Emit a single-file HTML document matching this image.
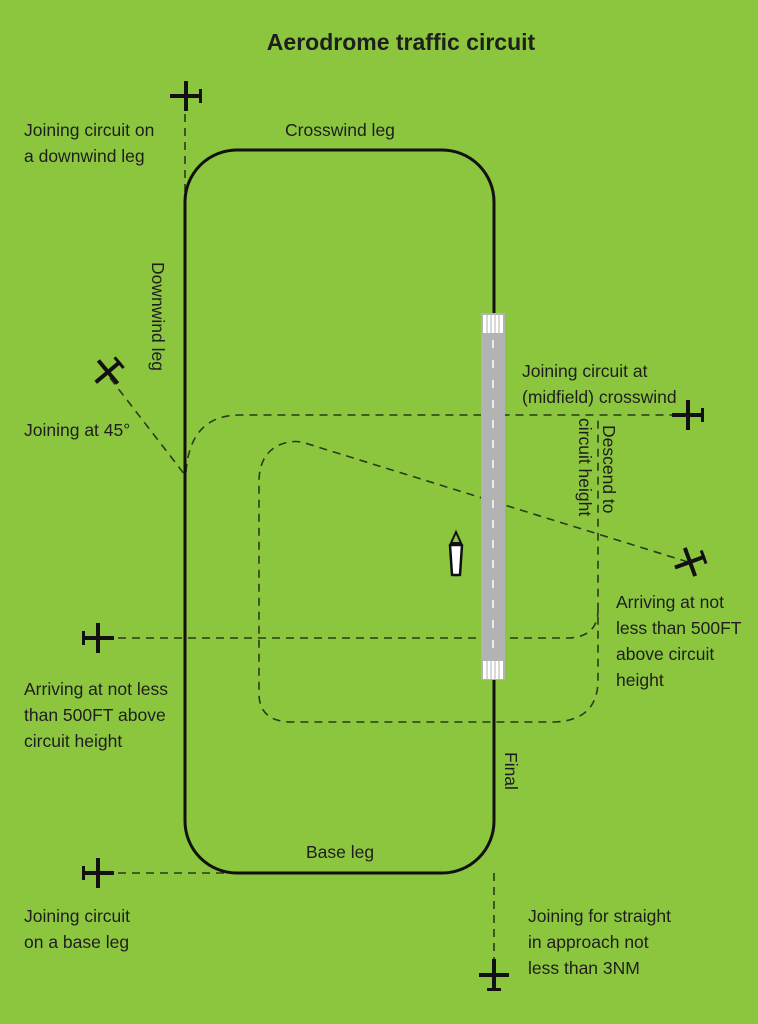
<!DOCTYPE html>
<html><head><meta charset="utf-8"><style>
html,body{margin:0;padding:0;background:#8cc63f;}
svg{display:block}
text{font-family:"Liberation Sans",sans-serif;fill:#1e1e1e;font-size:17.5px}
</style></head><body>
<svg width="758" height="1024" viewBox="0 0 758 1024" xmlns="http://www.w3.org/2000/svg">
<defs>
<g id="pl">
<rect x="-2" y="-15" width="4" height="30" fill="#111"/>
<rect x="-16" y="-2" width="32" height="4" fill="#111"/>
<rect x="13" y="-7" width="3" height="14" fill="#111"/>
</g>
</defs>
<rect width="758" height="1024" fill="#8cc63f"/>
<text x="401" y="50" text-anchor="middle" style="font-weight:bold;font-size:23px">Aerodrome traffic circuit</text>

<g fill="none" stroke="#2a3a1a" stroke-width="1.6" stroke-dasharray="8,6">
<line x1="185" y1="100" x2="185" y2="195"/>
<line x1="110" y1="378" x2="185" y2="475"/>
<path d="M186,472 Q190,415 240,415 L680,415"/>
<path d="M688,562 L305,443 Q296,440 285,443 Q260,450 259,480 L259,695 Q260,722 292,722 L555,722 Q598,720 598,680 L598,415"/>
<path d="M104,638 L570,638 Q598,636 598,610"/>
<line x1="104" y1="873" x2="232" y2="873"/>
<line x1="494" y1="873" x2="494" y2="968"/>
</g>

<rect x="185" y="150" width="309" height="723" rx="52" ry="52" fill="none" stroke="#111" stroke-width="3"/>

<rect x="481" y="313" width="24" height="367" fill="#b3b3b3"/>
<rect x="483" y="315" width="20" height="18" fill="#fff"/>
<rect x="483" y="661" width="20" height="18" fill="#fff"/>
<g stroke="#b3b3b3" stroke-width="1"><line x1="487" y1="315" x2="487" y2="333"/><line x1="491" y1="315" x2="491" y2="333"/><line x1="495" y1="315" x2="495" y2="333"/><line x1="499" y1="315" x2="499" y2="333"/>
<line x1="487" y1="661" x2="487" y2="679"/><line x1="491" y1="661" x2="491" y2="679"/><line x1="495" y1="661" x2="495" y2="679"/><line x1="499" y1="661" x2="499" y2="679"/></g>
<line x1="493" y1="340" x2="493" y2="655" stroke="#fff" stroke-width="1.5" stroke-dasharray="8,12"/>

<path d="M456,532 L461,543 L451,543 Z" fill="none" stroke="#111" stroke-width="2"/>
<path d="M450,545 L462,545 L460,575 L452,575 Z" fill="#fff" stroke="#111" stroke-width="2.5" stroke-linejoin="round"/>

<use href="#pl" transform="translate(186,96)"/>
<use href="#pl" transform="translate(108,372) rotate(-40)"/>
<use href="#pl" transform="translate(688,415)"/>
<use href="#pl" transform="translate(690,562) rotate(-20)"/>
<use href="#pl" transform="translate(98,638) rotate(180)"/>
<use href="#pl" transform="translate(98,873) rotate(180)"/>
<use href="#pl" transform="translate(494,975) rotate(90)"/>

<text x="24" y="136">Joining circuit on</text>
<text x="24" y="162">a downwind leg</text>
<text x="285" y="136">Crosswind leg</text>
<text x="24" y="436">Joining at 45°</text>
<text x="522" y="377">Joining circuit at</text>
<text x="522" y="403">(midfield) crosswind</text>
<text x="616" y="608">Arriving at not</text>
<text x="616" y="634">less than 500FT</text>
<text x="616" y="660">above circuit</text>
<text x="616" y="686">height</text>
<text x="24" y="695">Arriving at not less</text>
<text x="24" y="721">than 500FT above</text>
<text x="24" y="747">circuit height</text>
<text x="306" y="858">Base leg</text>
<text x="24" y="922">Joining circuit</text>
<text x="24" y="948">on a base leg</text>
<text x="528" y="922">Joining for straight</text>
<text x="528" y="948">in approach not</text>
<text x="528" y="974">less than 3NM</text>
<text transform="translate(152,262) rotate(90)">Downwind leg</text>
<text transform="translate(603,425) rotate(90)">Descend to</text>
<text transform="translate(579,418) rotate(90)">circuit height</text>
<text transform="translate(505,752) rotate(90)">Final</text>
</svg>
</body></html>
